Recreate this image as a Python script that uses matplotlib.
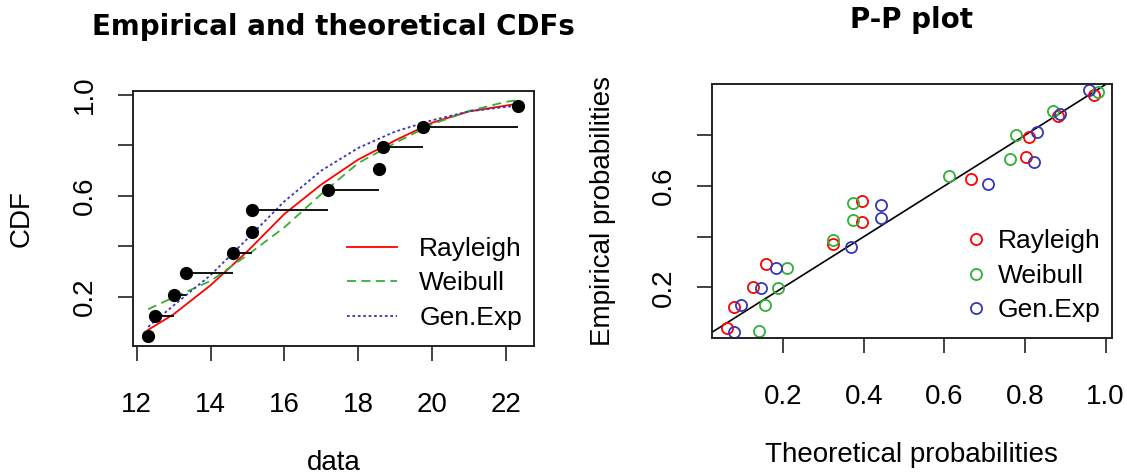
import matplotlib
matplotlib.use("Agg")
import matplotlib.pyplot as plt
import numpy as np

plt.rcParams['font.family'] = ['Liberation Sans', 'DejaVu Sans']

# empirical sample (sorted) and plotting positions
data_x = [12.31, 12.50, 13.01, 13.33, 14.62, 15.12, 15.12, 17.18, 18.57, 18.67, 19.75, 22.34]
data_p = [0.042, 0.125, 0.208, 0.292, 0.375, 0.458, 0.542, 0.625, 0.708, 0.792, 0.875, 0.958]

# fitted CDF curves
grid_x = [12.31, 13, 14, 15, 16, 17, 18, 19, 20, 21, 22, 22.34]
cdf_rayleigh = [0.068, 0.130, 0.245, 0.380, 0.528, 0.645, 0.744, 0.820, 0.890, 0.935, 0.958, 0.966]
cdf_weibull = [0.150, 0.197, 0.262, 0.365, 0.475, 0.607, 0.730, 0.810, 0.884, 0.937, 0.973, 0.980]
cdf_genexp = [0.080, 0.165, 0.285, 0.430, 0.578, 0.700, 0.790, 0.855, 0.900, 0.935, 0.953, 0.958]

# P-P plot points (theoretical, empirical)
pp_rayleigh_x = [0.059, 0.078, 0.124, 0.157, 0.322, 0.394, 0.394, 0.667, 0.802, 0.810, 0.882, 0.971]
pp_rayleigh_y = [0.038, 0.124, 0.203, 0.292, 0.371, 0.459, 0.540, 0.627, 0.715, 0.794, 0.876, 0.958]
pp_weibull_x = [0.140, 0.154, 0.186, 0.208, 0.322, 0.372, 0.372, 0.612, 0.763, 0.777, 0.870, 0.980]
pp_weibull_y = [0.029, 0.130, 0.196, 0.277, 0.386, 0.465, 0.534, 0.640, 0.706, 0.800, 0.896, 0.971]
pp_genexp_x = [0.078, 0.094, 0.145, 0.182, 0.368, 0.442, 0.442, 0.709, 0.823, 0.831, 0.887, 0.959]
pp_genexp_y = [0.023, 0.130, 0.196, 0.277, 0.360, 0.474, 0.524, 0.607, 0.695, 0.813, 0.882, 0.977]

labels = ["Rayleigh", "Weibull", "Gen.Exp"]
colors = ["#FF0000", "#33B033", "#3636B8"]

W, H = 1127, 474
fig = plt.figure(figsize=(W / 100, H / 100), dpi=100)

def px_axes(x0, x1, ytop, ybot):
    return fig.add_axes([x0 / W, 1 - ybot / H, (x1 - x0) / W, (ybot - ytop) / H])

def style_axis(ax):
    for s in ax.spines.values():
        s.set_linewidth(1.4)
        s.set_color("#222222")
    ax.tick_params(direction="out", length=11, width=1.2, labelsize=20, pad=22, color="#222222")
    ax.tick_params(axis="y", pad=14)

title_font = dict(fontsize=20, fontweight="bold", family="DejaVu Sans")

# ---- left: empirical and theoretical CDFs ----
ax1 = px_axes(133, 534, 91, 346)
style_axis(ax1)
ax1.plot(grid_x, cdf_rayleigh, color=colors[0], lw=1.3, ls="-", label=labels[0])
ax1.plot(grid_x, cdf_weibull, color=colors[1], lw=1.3, ls=(0, (5, 3)), label=labels[1])
ax1.plot(grid_x, cdf_genexp, color=colors[2], lw=1.3, ls=(0, (1.5, 1.5)), label=labels[2])
ax1.hlines(data_p[:-1], data_x[:-1], data_x[1:], color="black", lw=1.3)
ax1.plot(data_x, data_p, "o", color="black", ms=8.5, zorder=5)
ax1.set_xlim(11.9, 22.76)
ax1.set_ylim(0.004, 1.016)
ax1.set_xticks([12, 14, 16, 18, 20, 22])
ax1.set_yticks([0.2, 0.4, 0.6, 0.8, 1.0])
ax1.set_yticklabels(["0.2", "", "0.6", "", "1.0"], rotation=90, va="center")
ax1.set_xlabel("data", fontsize=20, labelpad=23)
ax1.set_ylabel("CDF", fontsize=20, labelpad=27)
ax1.set_title("Empirical and theoretical CDFs", pad=40, **title_font)
ax1.legend(loc="upper left", bbox_to_anchor=(0.5, 0.48), frameon=False, fontsize=19,
           handlelength=1.9, handletextpad=0.85, labelspacing=0.4, borderpad=0)

# ---- right: P-P plot ----
ax2 = px_axes(711.7, 1112, 84, 338)
style_axis(ax2)
ax2.plot([0, 1.1], [0, 1.1], color="black", lw=1.2)
for xs, ys, c, lab in [(pp_rayleigh_x, pp_rayleigh_y, colors[0], labels[0]),
                       (pp_weibull_x, pp_weibull_y, colors[1], labels[1]),
                       (pp_genexp_x, pp_genexp_y, colors[2], labels[2])]:
    ax2.plot(xs, ys, "o", mfc="none", mec=c, mew=1.3, ms=8, label=lab)
ax2.set_xlim(0.022, 1.016)
ax2.set_ylim(0.0, 1.002)
ax2.set_xticks([0.2, 0.4, 0.6, 0.8, 1.0])
ax2.set_xticklabels(["0.2", "0.4", "0.6", "0.8", "1.0"])
ax2.set_yticks([0.2, 0.4, 0.6, 0.8])
ax2.set_yticklabels(["0.2", "", "0.6", ""], rotation=90, va="center")
ax2.set_xlabel("Theoretical probabilities", fontsize=20, labelpad=23)
ax2.set_ylabel("Empirical probabilities", fontsize=20, labelpad=25)
ax2.set_title("P-P plot", pad=40, **title_font)
ax2.legend(loc="upper left", bbox_to_anchor=(0.6, 0.48), frameon=False, fontsize=19,
           handlelength=0.8, handletextpad=0.45, labelspacing=0.4, borderpad=0)

fig.savefig("out.png", dpi=100)
